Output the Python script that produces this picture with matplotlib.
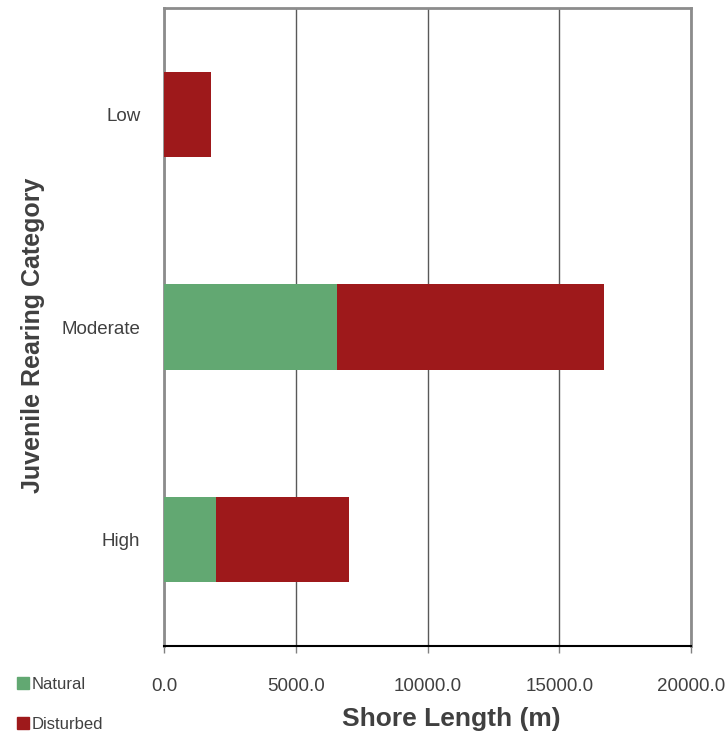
import numpy as np
import matplotlib
matplotlib.use("Agg")
import matplotlib.pyplot as plt
from matplotlib.patches import Patch

# data
categorias = ['High', 'Moderate', 'Low']
natural = [1960, 6565, 0]
disturbed = [5045, 10145, 1785]
xticks = [0, 5000, 10000, 15000, 20000]

cor_natural = '#62A872'
cor_disturbed = '#9E191B'
cor_texto = '#404040'
fonte = ['Liberation Sans', 'DejaVu Sans']

fig = plt.figure(figsize=(7.25, 7.38), dpi=100)
ax = fig.add_axes([164/725, 1-646/738, 527/725, 638/738])

y = np.arange(len(categorias))
ax.barh(y, natural, height=0.4, color=cor_natural, zorder=3)
ax.barh(y, disturbed, left=natural, height=0.4, color=cor_disturbed, zorder=3)

ax.set_xlim(0, 20000)
ax.set_ylim(-0.5, len(categorias) - 0.5)
ax.set_xticks(xticks)
ax.set_xticklabels([f'{v:.1f}' for v in xticks], family=fonte, fontsize=13.5, color=cor_texto)
ax.set_yticks(y)
ax.set_yticklabels(categorias, family=fonte, fontsize=13.5, color=cor_texto)
ax.tick_params(axis='y', length=0, pad=17)
ax.tick_params(axis='x', length=5, width=1, color='#808080', pad=18, direction='out')

ax.grid(axis='x', color='#595959', linewidth=1, zorder=0)
for s in ['top', 'left', 'right']:
    ax.spines[s].set_color('#8C8C8C')
    ax.spines[s].set_linewidth(2)
ax.spines['bottom'].set_color('black')
ax.spines['bottom'].set_linewidth(1.5)
ax.spines['bottom'].set_zorder(4)

ax.set_xlabel('Shore Length (m)', family=fonte, fontsize=19, fontweight='bold', color=cor_texto)
ax.xaxis.set_label_coords(0.545, -0.095)
ax.set_ylabel('Juvenile Rearing Category', family=fonte, fontsize=18, fontweight='bold',
              color=cor_texto, va='center')
ax.yaxis.set_label_coords(-0.249, 0.487)

handles = [Patch(color=cor_natural, label='Natural'),
           Patch(color=cor_disturbed, label='Disturbed')]
leg = fig.legend(handles=handles, loc='upper left', bbox_to_anchor=(17/725, 1-677/738),
                 frameon=False, prop={'family': fonte, 'size': 12},
                 handlelength=0.7, handleheight=0.7, handletextpad=0.15,
                 labelspacing=1.5, borderaxespad=0, borderpad=0)
for t in leg.get_texts():
    t.set_color(cor_texto)

plt.savefig('out.png', dpi=100)
plt.close()
